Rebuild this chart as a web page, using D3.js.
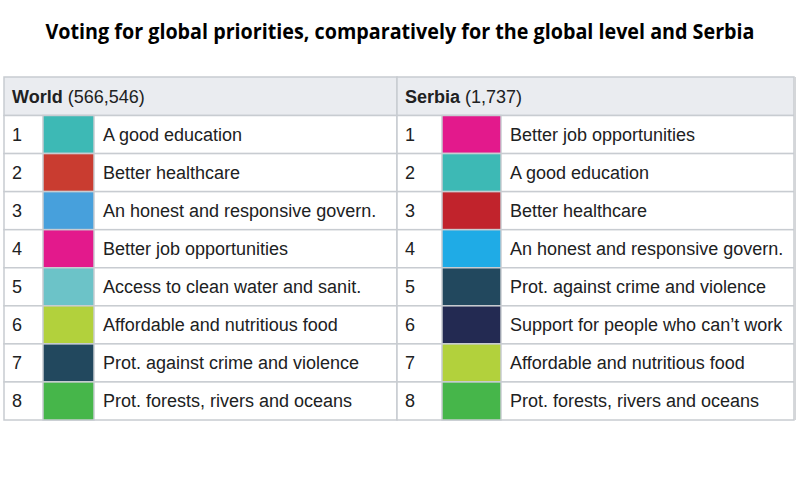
<!DOCTYPE html>
<html>
<head>
<meta charset="utf-8">
<script src="https://cdn.jsdelivr.net/npm/d3@7"></script>
<style>
  body { margin: 0; background: #fff; }
  text { font-family: "Liberation Sans", Arial, sans-serif; fill: #202122; }
  .title { font-family: "Open Sans", "DejaVu Sans", sans-serif; font-weight: 700; fill: #000; }
</style>
</head>
<body>
<svg width="800" height="500"></svg>
<script>
const title = "Voting for global priorities, comparatively for the global level and Serbia";

const panels = ["World", "Serbia"];
const votes  = ["566,546", "1,737"];

const ranks = [1, 2, 3, 4, 5, 6, 7, 8];

const worldPriorities = [
  "A good education",
  "Better healthcare",
  "An honest and responsive govern.",
  "Better job opportunities",
  "Access to clean water and sanit.",
  "Affordable and nutritious food",
  "Prot. against crime and violence",
  "Prot. forests, rivers and oceans"
];
const worldColors = ["#3db9b5", "#c93c30", "#47a0dc", "#e3198c", "#6cc3c8", "#b2d13c", "#22485e", "#46b64a"];

const serbiaPriorities = [
  "Better job opportunities",
  "A good education",
  "Better healthcare",
  "An honest and responsive govern.",
  "Prot. against crime and violence",
  "Support for people who can\u2019t work",
  "Affordable and nutritious food",
  "Prot. forests, rivers and oceans"
];
const serbiaColors = ["#e3198c", "#3db9b5", "#c1232c", "#1fabe6", "#22485e", "#232a52", "#b2d13c", "#46b64a"];

const svg = d3.select("svg");
const width = +svg.attr("width");

const border = "#c8ccd1";
const tableTop = 77, headH = 38.5, tableBottom = 420;

// column layout for each panel: [left, colorX, textX, right]
const layout = [
  {x0: 4,   x1: 43,  x2: 94,  x3: 397},
  {x0: 397, x1: 442, x2: 501, x3: 794}
];

const y = d3.scaleBand()
  .domain(ranks)
  .range([tableTop + headH, tableBottom]);

svg.append("text")
  .attr("class", "title")
  .attr("x", width / 2)
  .attr("y", 39)
  .attr("text-anchor", "middle")
  .attr("font-size", 21)
  .attr("textLength", 709)
  .attr("lengthAdjust", "spacingAndGlyphs")
  .text(title);

const data = [
  {names: worldPriorities, colors: worldColors},
  {names: serbiaPriorities, colors: serbiaColors}
];

data.forEach(function(d, p) {
  const c = layout[p];
  const g = svg.append("g");

  // header
  g.append("rect")
    .attr("x", c.x0).attr("y", tableTop)
    .attr("width", c.x3 - c.x0).attr("height", headH)
    .attr("fill", "#eaecf0")
    .attr("stroke", border).attr("stroke-width", 1.5);

  const head = g.append("text")
    .attr("x", c.x0 + 8)
    .attr("y", tableTop + headH / 2)
    .attr("dy", "0.35em")
    .attr("font-size", 18);
  head.append("tspan").attr("font-weight", "bold").text(panels[p]);
  head.append("tspan").text(" (" + votes[p] + ")");

  const rows = g.selectAll("g.row")
    .data(ranks)
    .enter()
    .append("g")
    .attr("class", "row");

  rows.append("rect")
    .attr("x", c.x0).attr("y", r => y(r))
    .attr("width", c.x3 - c.x0).attr("height", y.bandwidth())
    .attr("fill", "#fff")
    .attr("stroke", border).attr("stroke-width", 1.5);

  rows.append("rect")
    .attr("x", c.x1).attr("y", r => y(r))
    .attr("width", c.x2 - c.x1).attr("height", y.bandwidth())
    .attr("fill", (r, i) => d.colors[i])
    .attr("stroke", border).attr("stroke-width", 1.5);

  rows.append("text")
    .attr("x", c.x0 + 8)
    .attr("y", r => y(r) + y.bandwidth() / 2)
    .attr("dy", "0.35em")
    .attr("font-size", 18)
    .text(r => r);

  rows.append("text")
    .attr("x", c.x2 + 9)
    .attr("y", r => y(r) + y.bandwidth() / 2)
    .attr("dy", "0.35em")
    .attr("font-size", 18)
    .text((r, i) => d.names[i]);
});

// right edge shadow
svg.append("line")
  .attr("x1", 795).attr("x2", 795)
  .attr("y1", tableTop).attr("y2", tableBottom)
  .attr("stroke", "#d4d6d9").attr("stroke-width", 2);
</script>
</body>
</html>
